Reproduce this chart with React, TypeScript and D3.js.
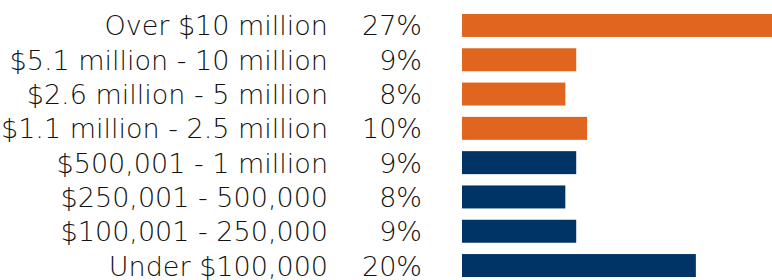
import * as d3 from "d3";

const categories = [
  "Over $10 million",
  "$5.1 million - 10 million",
  "$2.6 million - 5 million",
  "$1.1 million - 2.5 million",
  "$500,001 - 1 million",
  "$250,001 - 500,000",
  "$100,001 - 250,000",
  "Under $100,000",
];
const shares = [27, 9, 8, 10, 9, 8, 9, 20];
const groups = ["high", "high", "high", "high", "low", "low", "low", "low"];

const width = 772;
const height = 280;
const colors = { high: "#e06620", low: "#003466" };

export default function App() {
  const y = d3
    .scaleBand()
    .domain(categories)
    .range([8.3, 282.7])
    .paddingInner(0.33)
    .paddingOuter(0.165);
  const x = d3.scaleLinear().domain([-1.5, 27]).range([462, 772]);
  const font = "'DejaVu Sans', sans-serif";

  return (
    <svg
      width={width}
      height={height}
      style={{ position: "absolute", left: 0, top: 0 }}
    >
      {categories.map((c, i) => {
        const cy = y(c)! + y.bandwidth() / 2;
        return (
          <g key={c}>
            <text
              x={328}
              y={cy + 10}
              textAnchor="end"
              fontFamily={font}
              fontWeight={200}
              fontSize={27}
              fill="#111"
            >
              {c}
            </text>
            <text
              x={422}
              y={cy + 10}
              textAnchor="end"
              fontFamily={font}
              fontWeight={200}
              fontSize={27}
              fill="#111"
            >
              {shares[i]}%
            </text>
            <rect
              x={x(-1.5)}
              y={y(c)}
              width={x(shares[i]) - x(-1.5)}
              height={y.bandwidth()}
              fill={colors[groups[i]]}
            />
          </g>
        );
      })}
    </svg>
  );
}
